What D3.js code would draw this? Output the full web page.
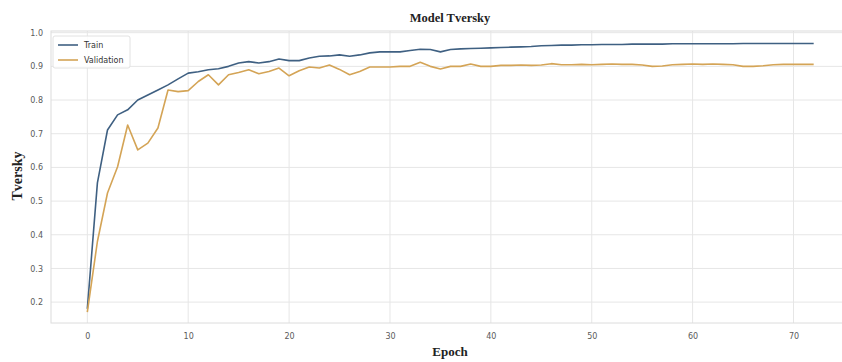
<!DOCTYPE html>
<html>
<head>
<meta charset="utf-8">
<script src="https://cdn.jsdelivr.net/npm/d3@7"></script>
<style>
  body { margin: 0; background: #fff; }
  .tick text { font-family: "DejaVu Sans", sans-serif; font-size: 8px; fill: #5a5a5a; }
  .grid line { stroke: #e6e6e6; stroke-width: 1; }
</style>
</head>
<body>
<div id="chart"></div>
<script>
const epochs = d3.range(0, 73);

const train = [
  0.18, 0.554, 0.711, 0.756, 0.771, 0.80, 0.815, 0.83, 0.845, 0.863,
  0.88, 0.884, 0.89, 0.893, 0.90, 0.91, 0.914, 0.91, 0.914, 0.922,
  0.917, 0.917, 0.925, 0.93, 0.931, 0.934, 0.93, 0.934, 0.94, 0.943,
  0.943, 0.943, 0.947, 0.951, 0.95, 0.943, 0.95, 0.952, 0.953, 0.954,
  0.955, 0.956, 0.957, 0.958, 0.959, 0.961, 0.962, 0.963, 0.963, 0.964,
  0.964, 0.965, 0.965, 0.965, 0.966, 0.966, 0.966, 0.966, 0.967, 0.967,
  0.967, 0.967, 0.967, 0.967, 0.967, 0.968, 0.968, 0.968, 0.968, 0.968,
  0.968, 0.968, 0.968
];

const validation = [
  0.17, 0.38, 0.524, 0.602, 0.726, 0.652, 0.672, 0.717, 0.83, 0.825,
  0.828, 0.855, 0.875, 0.845, 0.875, 0.882, 0.89, 0.878, 0.885, 0.895,
  0.872, 0.887, 0.898, 0.895, 0.904, 0.891, 0.875, 0.885, 0.898, 0.898,
  0.898, 0.9, 0.9, 0.912, 0.9, 0.892, 0.9, 0.9, 0.907, 0.9,
  0.9, 0.903, 0.903, 0.904, 0.903, 0.904, 0.908, 0.905, 0.905, 0.906,
  0.905, 0.906, 0.907, 0.906, 0.906, 0.904, 0.9, 0.901, 0.905, 0.906,
  0.907, 0.906, 0.907, 0.906, 0.905, 0.9, 0.9, 0.902, 0.905, 0.906,
  0.906, 0.906, 0.906
];

const xTicks = [0, 10, 20, 30, 40, 50, 60, 70];
const yTicks = [0.2, 0.3, 0.4, 0.5, 0.6, 0.7, 0.8, 0.9, 1.0];

const series = [
  { name: "Train", values: train, color: "#3f6082" },
  { name: "Validation", values: validation, color: "#d4a456" }
];

const width = 842, height = 362;
const margin = { top: 31, right: -8, bottom: 39, left: 51 };

const svg = d3.select("#chart")
  .append("svg")
    .attr("width", width)
    .attr("height", height);

const x = d3.scaleLinear()
  .domain([-3.6, 75.6])
  .range([margin.left, width - margin.right]);

const y = d3.scaleLinear()
  .domain([0.138, 1.005])
  .range([height - margin.bottom, margin.top]);

// grid
svg.append("g")
  .attr("class", "grid")
  .selectAll("line.v")
  .data(xTicks)
  .enter().append("line")
    .attr("x1", d => x(d)).attr("x2", d => x(d))
    .attr("y1", y.range()[0]).attr("y2", y.range()[1]);

svg.append("g")
  .attr("class", "grid")
  .selectAll("line.h")
  .data(yTicks)
  .enter().append("line")
    .attr("x1", x.range()[0]).attr("x2", x.range()[1])
    .attr("y1", d => y(d)).attr("y2", d => y(d));

// frame
svg.append("rect")
  .attr("x", x.range()[0])
  .attr("y", y.range()[1])
  .attr("width", x.range()[1] - x.range()[0])
  .attr("height", y.range()[0] - y.range()[1])
  .attr("fill", "none")
  .attr("stroke", "#dcdcdc");

// axes
const xAxis = svg.append("g")
  .attr("transform", `translate(0,${y.range()[0]})`)
  .call(d3.axisBottom(x).tickValues(xTicks).tickSize(0).tickPadding(10));
xAxis.select(".domain").remove();

const yAxis = svg.append("g")
  .attr("transform", `translate(${x.range()[0]},0)`)
  .call(d3.axisLeft(y).tickValues(yTicks).tickFormat(d3.format(".1f")).tickSize(0).tickPadding(8));
yAxis.select(".domain").remove();

// lines
const line = d3.line()
  .x((d, i) => x(epochs[i]))
  .y(d => y(d));

svg.selectAll("path.series")
  .data(series)
  .enter().append("path")
    .attr("class", "series")
    .attr("fill", "none")
    .attr("stroke", d => d.color)
    .attr("stroke-width", 1.6)
    .attr("stroke-linejoin", "round")
    .attr("d", d => line(d.values));

// legend
const legend = svg.append("g")
  .attr("transform", "translate(53,36)");

legend.append("rect")
  .attr("width", 77)
  .attr("height", 32)
  .attr("rx", 2)
  .attr("fill", "#fff")
  .attr("fill-opacity", 0.85)
  .attr("stroke", "#e2e2e2");

const item = legend.selectAll("g.item")
  .data(series)
  .enter().append("g")
    .attr("class", "item")
    .attr("transform", (d, i) => `translate(5,${9 + i * 15})`);

item.append("line")
  .attr("x1", 0).attr("x2", 20)
  .attr("stroke", d => d.color)
  .attr("stroke-width", 1.6);

item.append("text")
  .attr("x", 26)
  .attr("dy", "0.35em")
  .style("font-family", "DejaVu Sans, sans-serif")
  .style("font-size", "8px")
  .style("fill", "#333")
  .text(d => d.name);

// titles
svg.append("text")
  .attr("x", 450)
  .attr("y", 22)
  .attr("text-anchor", "middle")
  .style("font-family", "Liberation Serif, serif")
  .style("font-weight", "bold")
  .style("font-size", "12.5px")
  .style("fill", "#222")
  .text("Model Tversky");

svg.append("text")
  .attr("x", 450)
  .attr("y", 356)
  .attr("text-anchor", "middle")
  .style("font-family", "Liberation Serif, serif")
  .style("font-weight", "bold")
  .style("font-size", "13px")
  .style("fill", "#222")
  .text("Epoch");

svg.append("text")
  .attr("transform", "translate(22,176) rotate(-90)")
  .attr("text-anchor", "middle")
  .style("font-family", "Liberation Serif, serif")
  .style("font-weight", "bold")
  .style("font-size", "14px")
  .style("fill", "#222")
  .text("Tversky");
</script>
</body>
</html>
